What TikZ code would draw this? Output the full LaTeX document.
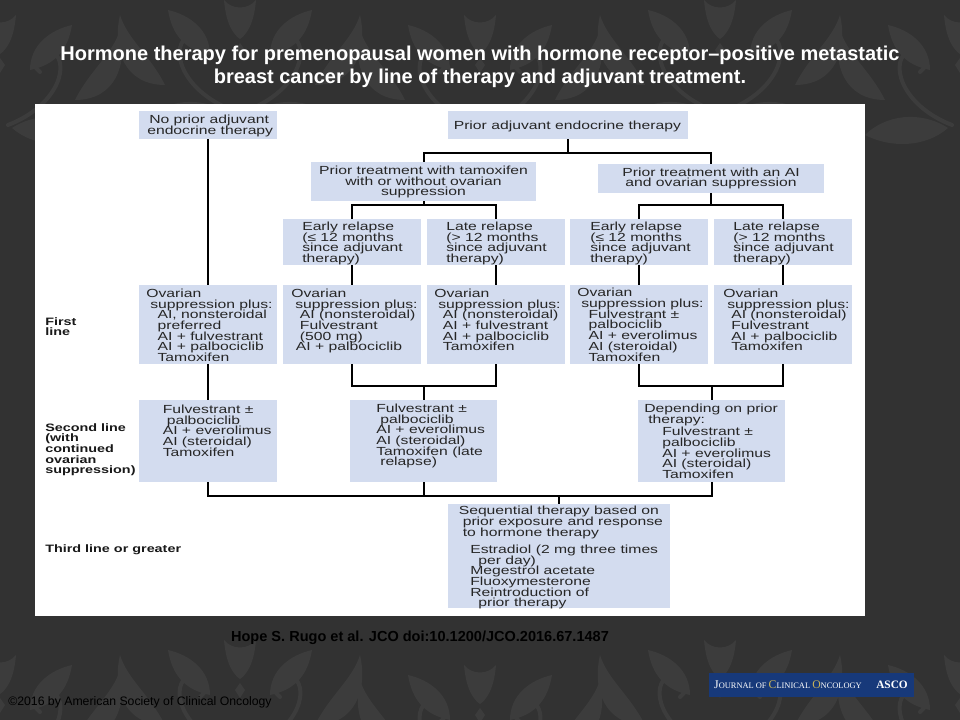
\documentclass[tikz,border=0pt]{standalone}
\usepackage{fontspec}
\setmainfont{Liberation Sans}
\newfontfamily\chartfont[FakeStretch=1.34]{Liberation Sans}
\newfontfamily\crestfont{Liberation Serif}
\usetikzlibrary{calc}
\newcommand{\crestcap}[1]{{\fontsize{8.8}{9}\selectfont #1}}

\begin{document}
\begin{tikzpicture}[
    x=0.75pt,
    y=-0.75pt,
    line cap=butt,
    line join=miter
]

\definecolor{SlateBack}{HTML}{323232}
\definecolor{DamaskGray}{HTML}{3C3C3C}
\definecolor{BlockBlue}{HTML}{D3DCEF}
\definecolor{CrestBlue}{HTML}{17397A}
\definecolor{CrestGold}{HTML}{C9B458}

\tikzset{
    block/.style 2 args={
        fill=BlockBlue,
        draw=none,
        minimum width=#1*0.75pt,
        minimum height=#2*0.75pt,
        inner sep=0pt
    },
    block text/.style={
        anchor=north west,
        align=left,
        inner sep=0pt,
        text=black!85,
        font={\chartfont\fontsize{8.8}{8.05}\selectfont\lineskiplimit -20pt\relax}
    },
    row label/.style={
        anchor=north west,
        align=left,
        inner sep=0pt,
        text=black!90,
        font={\chartfont\bfseries\fontsize{8.05}{8}\selectfont\lineskiplimit -20pt\relax}
    },
    link/.style={
        draw=black,
        line width=1.5pt
    },
    damask/.style={
        fill=DamaskGray,
        draw=none
    },
    scroll/.style={
        draw=DamaskGray,
        line width=3pt,
        line cap=round
    }
}

\useasboundingbox (0,0) rectangle (960,720);
\fill[SlateBack] (0,0) rectangle (960,720);

% wallpaper
\begin{scope}
\clip (0,0) rectangle (960,720);
\foreach \cx/\cy in {240/25,720/25,0/40,480/40,960/40,240/665,720/665,0/680,480/690,960/680} {
    \begin{scope}[shift={(\cx,\cy)}]
        \fill[damask] (0,18) -- (5,25) -- (0,33) -- (-5,25) -- cycle;
        \fill[damask] (-16,-25) .. controls (-14,0) and (-6,10) .. (0,14) .. controls (6,10) and (14,0) .. (16,-25)
            .. controls (8,-15) and (-8,-15) .. (-16,-25);
        \foreach \s in {-1,1} {
            \draw[scroll] (\s*8,85) .. controls (\s*60,65) and (\s*72,20) .. (\s*50,10)
                .. controls (\s*36,5) and (\s*28,24) .. (\s*40,32);
            \fill[damask] (\s*30,30) .. controls (\s*55,25) and (\s*68,10) .. (\s*72,-15)
                .. controls (\s*50,-10) and (\s*30,5) .. (\s*30,30);
            \fill[damask] (\s*12,88) .. controls (\s*40,70) and (\s*75,75) .. (\s*95,95)
                .. controls (\s*70,108) and (\s*35,108) .. (\s*12,88);
            \fill[damask] (\s*75,60) .. controls (\s*90,30) and (\s*112,15) .. (\s*120,-10)
                .. controls (\s*128,25) and (\s*115,60) .. (\s*75,60);
        }
    \end{scope}
}
\end{scope}

\node[font=\bfseries\fontsize{15}{17.3}\selectfont, text=white, align=center, inner sep=0pt] (title) at (480,67)
    {Hormone therapy for premenopausal women with hormone receptor--positive metastatic\\
     breast cancer by line of therapy and adjuvant treatment.};

\fill[white] (35,104) rectangle (865,616);

% top of the tree
\node[block={138}{28}] (noprior) at (208,125) {};
\node[block={240}{28}] (prior) at (568,125) {};
\node[block={225}{39}] (tamox) at (423.5,181.5) {};
\node[block={226}{29}] (aisupp) at (711,178.5) {};

\foreach \x/\name in {352/earlya,496/latea,639/earlyb,783/lateb} {
    \node[block={138}{46}] (\name) at (\x,242) {};
}

% first line
\foreach \x/\name in {208/firstz,352/firsta,496/firstb,639/firstc,783/firstd} {
    \node[block={138}{79}] (\name) at (\x,324.5) {};
}

% second and third line
\node[block={138}{82}] (secondz) at (208,441) {};
\node[block={147}{82}] (seconda) at (423.5,441) {};
\node[block={147}{82}] (secondb) at (711.5,441) {};
\node[block={222}{104}] (third) at (559,556) {};

% texts
\node[block text] (nopriortext) at (147,114.5) {\hspace*{1.5pt}No prior adjuvant\\[0.5pt]endocrine therapy};
\node[block text] (priortext) at (453.5,120.5) {Prior adjuvant endocrine therapy};
\node[block text, align=center, anchor=north] (tamoxtext) at (423.5,165.5) {Prior treatment with tamoxifen\\with or without ovarian\\suppression};
\node[block text, align=center, anchor=north] (aisupptext) at (711,167.5) {Prior treatment with an AI\\and ovarian suppression};

\node[block text] (earlyatext) at (302,221.5) {Early relapse\\(≤ 12 months\\since adjuvant\\therapy)};
\node[block text] (lateatext) at (446,221.5) {Late relapse\\(> 12 months\\since adjuvant\\therapy)};
\node[block text] (earlybtext) at (590,221.5) {Early relapse\\(≤ 12 months\\since adjuvant\\therapy)};
\node[block text] (latebtext) at (733,221.5) {Late relapse\\(> 12 months\\since adjuvant\\therapy)};

\node[block text] (firstztext) at (146,288.5) {Ovarian\\\hspace*{3pt}suppression plus:\\\hspace*{8.5pt}AI, nonsteroidal\\\hspace*{8.5pt}preferred\\\hspace*{8.5pt}AI + fulvestrant\\\hspace*{8.5pt}AI + palbociclib\\\hspace*{8.5pt}Tamoxifen};
\node[block text] (firstatext) at (291,288.5) {Ovarian\\\hspace*{3pt}suppression plus:\\\hspace*{6.5pt}AI (nonsteroidal)\\\hspace*{6.5pt}Fulvestrant\\\hspace*{6.5pt}(500 mg)\\\hspace*{3.5pt}AI + palbociclib};
\node[block text] (firstbtext) at (434,288.5) {Ovarian\\\hspace*{3pt}suppression plus:\\\hspace*{6.5pt}AI (nonsteroidal)\\\hspace*{6.5pt}AI + fulvestrant\\\hspace*{6.5pt}AI + palbociclib\\\hspace*{6.5pt}Tamoxifen};
\node[block text] (firstctext) at (577,288) {Ovarian\\\hspace*{3pt}suppression plus:\\\hspace*{8.5pt}Fulvestrant ±\\\hspace*{8.5pt}palbociclib\\\hspace*{8.5pt}AI + everolimus\\\hspace*{8.5pt}AI (steroidal)\\\hspace*{8.5pt}Tamoxifen};
\node[block text] (firstdtext) at (723,288.5) {Ovarian\\\hspace*{3pt}suppression plus:\\\hspace*{6pt}AI (nonsteroidal)\\\hspace*{6pt}Fulvestrant\\\hspace*{6pt}AI + palbociclib\\\hspace*{6pt}Tamoxifen};

\node[block text] (secondztext) at (162.5,404.5) {Fulvestrant ±\\\hspace*{3pt}palbociclib\\AI + everolimus\\AI (steroidal)\\Tamoxifen};
\node[block text] (secondatext) at (376,403.5) {Fulvestrant ±\\\hspace*{3pt}palbociclib\\AI + everolimus\\AI (steroidal)\\Tamoxifen (late\\\hspace*{3pt}relapse)};
\node[block text] (secondbtext) at (644,403.5) {Depending on prior\\\hspace*{3pt}therapy:\\[1.5pt]\hspace*{13.5pt}Fulvestrant ±\\\hspace*{13.5pt}palbociclib\\\hspace*{13.5pt}AI + everolimus\\\hspace*{13.5pt}AI (steroidal)\\\hspace*{13.5pt}Tamoxifen};
\node[block text] (thirdtext) at (458.5,506) {Sequential therapy based on\\\hspace*{3pt}prior exposure and response\\\hspace*{3pt}to hormone therapy};
\node[block text] (thirdlist) at (470,544.5) {Estradiol (2 mg three times\\\hspace*{6pt}per day)\\Megestrol acetate\\Fluoxymesterone\\Reintroduction of\\\hspace*{6pt}prior therapy};

% row labels
\node[row label] (rowfirst) at (45,317) {First\\line};
\node[row label] (rowsecond) at (45,423) {Second line\\(with\\continued\\ovarian\\suppression)};
\node[row label] (rowthird) at (45,544) {Third line or greater};

% connectors
\coordinate (priorjoin) at (prior.south |- 0,153);
\coordinate (tamoxjoin) at (tamox.south |- 0,205);
\coordinate (aijoin) at (aisupp.south |- 0,205);
\coordinate (firstjoin) at (seconda.north |- 0,386);
\coordinate (firstjoinb) at (secondb.north |- 0,386);
\coordinate (secondjoin) at (third.north |- 0,496);

\draw[link] (noprior) -- (firstz);
\draw[link] (firstz) -- (secondz);
\draw[link] (prior.south) -- (priorjoin);
\draw[link] (tamox.north) -- (tamox.north |- priorjoin) -- (aisupp.north |- priorjoin) -- (aisupp.north);
\draw[link] (tamox.south) -- (tamoxjoin);
\draw[link] (earlya.north) -- (earlya.north |- tamoxjoin) -- (latea.north |- tamoxjoin) -- (latea.north);
\draw[link] (aisupp.south) -- (aijoin);
\draw[link] (earlyb.north) -- (earlyb.north |- aijoin) -- (lateb.north |- aijoin) -- (lateb.north);
\draw[link] (earlya) -- (firsta);
\draw[link] (latea) -- (firstb);
\draw[link] (earlyb) -- (firstc);
\draw[link] (lateb) -- (firstd);
\draw[link] (firsta.south) -- (firsta.south |- firstjoin) -- (firstb.south |- firstjoin) -- (firstb.south);
\draw[link] (firstjoin) -- (seconda.north);
\draw[link] (firstc.south) -- (firstc.south |- firstjoinb) -- (firstd.south |- firstjoinb) -- (firstd.south);
\draw[link] (firstjoinb) -- (secondb.north);
\draw[link] (secondz.south) -- (secondz.south |- secondjoin) -- (secondb.south |- secondjoin) -- (secondb.south);
\draw[link] (seconda.south) -- (seconda.south |- secondjoin);
\draw[link] (secondjoin) -- (third.north);

% footer
\node[font=\bfseries\fontsize{10.9}{12}\selectfont, text=black, inner sep=0pt] (citation) at (420,637.5) {Hope S. Rugo et al. JCO doi:10.1200/JCO.2016.67.1487};
\node[font=\fontsize{9.2}{10}\selectfont, text=black, anchor=west, inner sep=0pt] (copyright) at (8,702) {\textcopyright 2016 by American Society of Clinical Oncology};

\node[fill=CrestBlue, minimum width=205*0.75pt, minimum height=24*0.75pt, inner sep=0pt] (crest) at (811,685) {};
\node[font=\crestfont\fontsize{6.3}{8}\selectfont, text=white, inner sep=0pt] (crestname) at (788,685) {\crestcap{J}OURNAL OF {\color{CrestGold}\crestcap{C}}LINICAL {\color{CrestGold}\crestcap{O}}NCOLOGY};
\node[font=\crestfont\bfseries\fontsize{8.5}{8}\selectfont, text=white, anchor=west, inner sep=0pt] (crestasco) at (876,685) {ASCO};

\end{tikzpicture}
\end{document}
